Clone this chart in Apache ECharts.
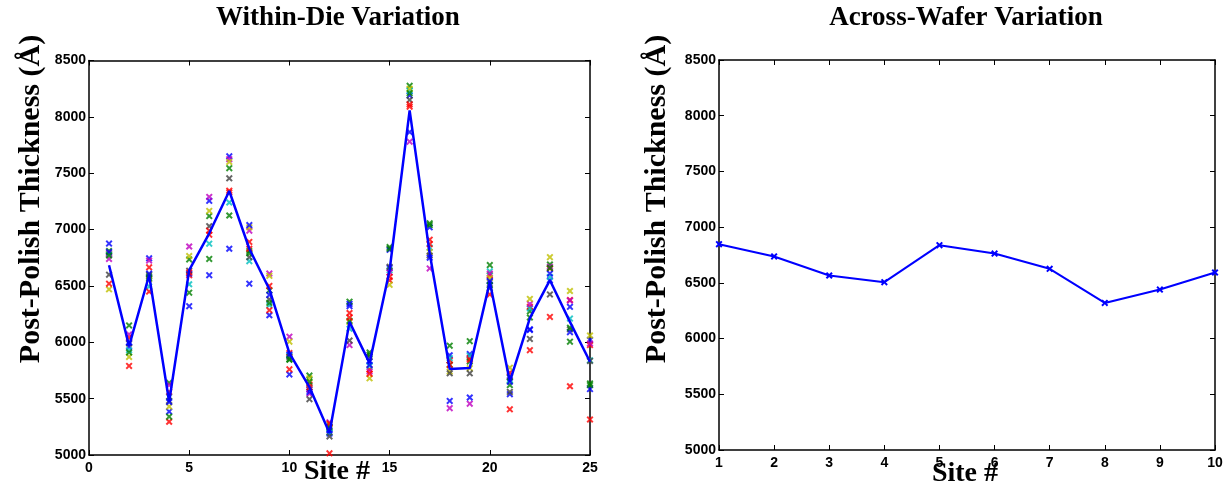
<!DOCTYPE html>
<html>
<head>
<meta charset="utf-8">
<script src="https://cdn.jsdelivr.net/npm/echarts@6/dist/echarts.min.js"></script>
<style>
html, body { margin: 0; padding: 0; background: #fff; }
#chart { width: 1231px; height: 486px; }
</style>
</head>
<body>
<div id="chart"></div>
<script>
// sites on the die (left) and dies on the wafer (right)
var sites = [1,2,3,4,5,6,7,8,9,10,11,12,13,14,15,16,17,18,19,20,21,22,23,24,25];
var dies = [1,2,3,4,5,6,7,8,9,10];

// thickness per die, one array per die (colour cycles like matlab)
var dieB1 = [6876,5960,6745,5385,6320,7255,7650,6520,6240,5715,5580,5190,6320,5830,6660,8190,7020,5885,5895,6550,5540,6115,6550,6315,6020];
var dieG1 = [6810,6150,6585,5640,6735,7120,7545,6810,6460,5845,5705,5240,6360,5910,6845,8275,7055,5970,6010,6685,5620,6275,6690,6005,5635];
var dieR1 = [6790,5790,6665,5295,6595,6955,7345,6890,6500,5905,5625,5015,6260,5760,6550,8090,6910,5840,5860,6595,5730,6315,6655,6375,5975];
var dieC  = [6780,5930,6495,5515,6515,6875,7240,6720,6330,5880,5600,5200,6120,5790,6640,8230,6840,5860,5880,6630,5665,6300,6580,6210,5840];
var dieM  = [6740,6070,6725,5620,6850,7290,7625,6990,6610,6050,5545,5290,5975,5740,6620,7780,6655,5415,5455,6610,5700,6340,6670,6370,5990];
var dieY  = [6470,5870,6560,5430,6765,7165,7600,7020,6590,6005,5680,5270,6180,5680,6510,8250,6800,5740,5770,6570,5775,6385,6755,6455,6060];
var dieK  = [6600,5990,6600,5480,6635,7030,7455,6755,6380,5870,5495,5165,6015,5870,6670,8150,6770,5725,5725,6480,5560,6030,6425,6115,5835];
var dieB2 = [6800,6000,6610,5470,6610,6595,6830,7040,6420,5890,5560,5220,6340,5800,6820,7865,6750,5480,5510,6540,5650,6110,6610,6090,5585];
var dieG2 = [6770,5910,6570,5340,6440,6740,7125,6790,6350,5850,5650,5250,6190,5890,6830,8210,7040,5800,5830,6505,5690,6220,6660,6130,5620];
var dieR2 = [6520,6040,6450,5560,6620,6990,7330,6830,6285,5760,5600,5280,6220,5720,6580,8110,6870,5800,5845,6425,5405,5930,6225,5610,5315];

// blue line through the sites
var siteMean = [6683,5966,6595,5472,6640,6967,7342,6830,6471,5904,5603,5195,6181,5815,6639,8057,6790,5762,5771,6536,5650,6214,6551,6181,5827];

// across wafer, one value per die
var dieMean = [6847,6737,6566,6506,6838,6763,6626,6320,6440,6593];

var yTicks = [5000,5500,6000,6500,7000,7500,8000,8500];

var dieList = [dieB1, dieG1, dieR1, dieC, dieM, dieY, dieK, dieB2, dieG2, dieR2];
var dieColors = ['#0000ff','#008000','#ff0000','#00bfbf','#bf00bf','#bfbf00','#404040','#0000ff','#008000','#ff0000'];

var xMark = 'path://M0,2L2,0L5,3L8,0L10,2L7,5L10,8L8,10L5,7L2,10L0,8L3,5Z';

var chart = echarts.init(document.getElementById('chart'));

var tickFont = { fontFamily: 'Liberation Sans', fontWeight: 'bold', fontSize: 14, color: '#000',
    formatter: function (v) { return String(v); } };

function xAxisFor(grid, min, max, step, top) {
    return {
        type: 'value', gridIndex: grid, min: min, max: max, interval: step,
        position: top ? 'top' : 'bottom',
        axisLine: { show: true, onZero: false, lineStyle: { color: '#000', width: 1.5 } },
        axisTick: { show: true, inside: true, length: 5, lineStyle: { color: '#000', width: 1 } },
        axisLabel: top ? { show: false } : Object.assign({ margin: 6 }, tickFont),
        splitLine: { show: false }
    };
}
function yAxisFor(grid, right) {
    return {
        type: 'value', gridIndex: grid, min: yTicks[0], max: yTicks[yTicks.length - 1], interval: 500,
        position: right ? 'right' : 'left',
        axisLine: { show: true, onZero: false, lineStyle: { color: '#000', width: 1.5 } },
        axisTick: { show: true, inside: true, length: 5, lineStyle: { color: '#000', width: 1 } },
        axisLabel: right ? { show: false } : Object.assign({ margin: 3 }, tickFont),
        splitLine: { show: false }
    };
}

var series = [];
for (var d = 0; d < dieList.length; d++) {
    series.push({
        type: 'scatter', xAxisIndex: 0, yAxisIndex: 0,
        symbol: xMark, symbolSize: 7,
        itemStyle: { color: dieColors[d] },
        data: sites.map(function (s, i) { return [s, dieList[d][i]]; }),
        z: 2, silent: true
    });
}
series.push({
    type: 'line', xAxisIndex: 0, yAxisIndex: 0,
    showSymbol: false, symbol: 'none',
    lineStyle: { color: '#0000ff', width: 2.5 },
    data: sites.map(function (s, i) { return [s, siteMean[i]]; }),
    z: 5, silent: true
});
series.push({
    type: 'line', xAxisIndex: 2, yAxisIndex: 2,
    symbol: xMark, symbolSize: 7,
    itemStyle: { color: '#0000ff' },
    lineStyle: { color: '#0000ff', width: 2 },
    data: dies.map(function (s, i) { return [s, dieMean[i]]; }),
    z: 5, silent: true
});

var titleFont = 'bold 27px "Liberation Serif"';
var nameFont = 'bold 30px "Liberation Serif"';

var option = {
    animation: false,
    backgroundColor: '#fff',
    grid: [
        { left: 89, top: 60.5, width: 501, height: 394.5 },
        { left: 719, top: 60, width: 496, height: 390 }
    ],
    xAxis: [
        xAxisFor(0, 0, 25, 5, false),
        xAxisFor(0, 0, 25, 5, true),
        xAxisFor(1, 1, 10, 1, false),
        xAxisFor(1, 1, 10, 1, true)
    ],
    yAxis: [
        yAxisFor(0, false),
        yAxisFor(0, true),
        yAxisFor(1, false),
        yAxisFor(1, true)
    ],
    graphic: [
        { type: 'text', x: 338, y: 18, style: { text: 'Within-Die Variation', align: 'center', verticalAlign: 'middle', font: titleFont, fill: '#000' } },
        { type: 'text', x: 966, y: 18, style: { text: 'Across-Wafer Variation', align: 'center', verticalAlign: 'middle', font: titleFont, fill: '#000' } },
        { type: 'text', x: 31, y: 199, rotation: Math.PI / 2, style: { text: 'Post-Polish Thickness (Å)', align: 'center', verticalAlign: 'middle', font: nameFont, fill: '#000' } },
        { type: 'text', x: 657, y: 199, rotation: Math.PI / 2, style: { text: 'Post-Polish Thickness (Å)', align: 'center', verticalAlign: 'middle', font: nameFont, fill: '#000' } },
        { type: 'text', x: 337, y: 472, style: { text: 'Site #', align: 'center', verticalAlign: 'middle', font: 'bold 28px "Liberation Serif"', fill: '#000' } },
        { type: 'text', x: 965, y: 474, style: { text: 'Site #', align: 'center', verticalAlign: 'middle', font: 'bold 28px "Liberation Serif"', fill: '#000' } }
    ],
    series: series
};
chart.setOption(option);
</script>
</body>
</html>
